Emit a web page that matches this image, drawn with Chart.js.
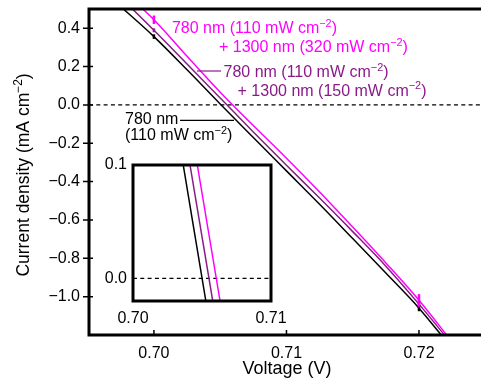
<!DOCTYPE html>
<html><head><meta charset="utf-8">
<script src="https://cdn.jsdelivr.net/npm/chart.js@4.4.0/dist/chart.umd.min.js"></script>
<style>
html,body{margin:0;padding:0;background:#fff;}
#wrap{position:relative;width:481px;height:390px;overflow:hidden;}
canvas{position:absolute;left:0;top:0;}
</style></head><body>
<div id="wrap"><canvas id="main" width="481" height="390"></canvas><canvas id="inset" width="481" height="390"></canvas></div>
<script>
// ---------- data ----------
const voltage  = [0.6975, 0.7000, 0.7025, 0.7050, 0.7075, 0.7100, 0.7125, 0.7150, 0.7175, 0.7200, 0.7225];
const jBlack   = [0.512, 0.356, 0.183, 0.005, -0.170, -0.344, -0.518, -0.697, -0.877, -1.060, -1.270];
const jPurple  = [0.560, 0.389, 0.213, 0.036, -0.141, -0.315, -0.486, -0.661, -0.841, -1.039, -1.249];
const jMagenta = [0.605, 0.444, 0.253, 0.066, -0.108, -0.278, -0.454, -0.637, -0.824, -1.019, -1.236];
const errVoltage = [0.700, 0.720];
const errBlack   = [0.012, 0.016];
const errPurple  = [0.010, 0.018];
const errMagenta = [0.022, 0.032];
const xTicks = [0.70, 0.71, 0.72];
const yTicks = [0.4, 0.2, 0.0, -0.2, -0.4, -0.6, -0.8, -1.0];
// inset (zoom around open-circuit voltage)
const insetJ        = [0.1, -0.02];
const insetVBlack   = [0.70364, 0.70528];
const insetVPurple  = [0.70413, 0.70578];
const insetVMagenta = [0.70466, 0.70631];
const insetXTicks = [0.70, 0.71];
const insetYTicks = [0.0, 0.1];
// labels: [V, J] anchor of text baseline start, text with ^sup^
const labelsMagenta = [[0.70136, 0.3723, '780 nm (110 mW cm^\u22122^)'], [0.70491, 0.2758, '+ 1300 nm (320 mW cm^\u22122^)']];
const labelsPurple  = [[0.70525, 0.1455, '780 nm (110 mW cm^\u22122^)'], [0.70631, 0.0480, '+ 1300 nm (150 mW cm^\u22122^)']];
const labelsBlack   = [[0.69782, -0.0996, '780 nm'], [0.69782, -0.1830, '(110 mW cm^\u22122^)']];
const leaderPurple = [[0.70325, 0.1767], [0.70506, 0.1767]];
const leaderBlack  = [[0.70197, -0.0813], [0.70604, -0.0813]];

const MAG = '#FF00FF', PUR = '#8B1A89', BLK = '#000000';
const FONT = "'Liberation Sans', Arial, Helvetica, sans-serif";
Chart.defaults.font.family = FONT;
Chart.defaults.color = '#000';

const mk = (vs, js) => vs.map((v, i) => ({x: v, y: js[i]}));
const fmtY = v => (Math.abs(v) < 1e-9 ? 0 : v).toFixed(1).replace('-', '\u2212');

function drawRich(ctx, str, x, y, size, color, measureOnly) {
  const parts = str.split('^');
  let cx = x;
  ctx.fillStyle = color;
  parts.forEach((t, i) => {
    if (!t) return;
    const sup = i % 2 === 1;
    ctx.font = (sup ? size * 0.68 : size) + 'px ' + FONT;
    if (!measureOnly) ctx.fillText(t, cx, sup ? y - size * 0.4 : y);
    cx += ctx.measureText(t).width;
  });
  return cx - x;
}

const mainDeco = {
  id: 'mainDeco',
  beforeDatasetsDraw(chart) {
    const {ctx, chartArea: a, scales: {y}} = chart;
    ctx.save();
    ctx.strokeStyle = '#000'; ctx.lineWidth = 1.2; ctx.setLineDash([4, 3.3]);
    const y0 = y.getPixelForValue(0);
    ctx.beginPath(); ctx.moveTo(a.left, y0); ctx.lineTo(a.right, y0); ctx.stroke();
    ctx.restore();
  },
  afterDatasetsDraw(chart) {
    const {ctx, chartArea: a, scales: {x, y}} = chart;
    ctx.save();
    // error bars
    const bars = [[jBlack, errBlack, BLK], [jPurple, errPurple, PUR], [jMagenta, errMagenta, MAG]];
    bars.forEach(([js, errs, col]) => {
      ctx.strokeStyle = col; ctx.lineWidth = 2.5;
      errVoltage.forEach((v, k) => {
        const i = voltage.indexOf(v);
        const xp = x.getPixelForValue(v);
        ctx.beginPath();
        ctx.moveTo(xp, y.getPixelForValue(js[i] + errs[k]));
        ctx.lineTo(xp, y.getPixelForValue(js[i] - errs[k]));
        ctx.stroke();
      });
    });
    // axes
    ctx.strokeStyle = '#000'; ctx.lineWidth = 3; ctx.lineCap = 'butt';
    ctx.beginPath();
    ctx.moveTo(a.left, a.top); ctx.lineTo(a.right + 2, a.top);
    ctx.moveTo(a.left, a.top - 1.5); ctx.lineTo(a.left, a.bottom + 1.5);
    ctx.moveTo(a.left - 1.5, a.bottom); ctx.lineTo(a.right + 2, a.bottom);
    ctx.stroke();
    ctx.lineWidth = 1.5;
    ctx.beginPath();
    yTicks.forEach(v => { const p = y.getPixelForValue(v); ctx.moveTo(a.left - 6, p); ctx.lineTo(a.left + 4, p); });
    xTicks.forEach(v => { const p = x.getPixelForValue(v); ctx.moveTo(p, a.bottom); ctx.lineTo(p, a.bottom - 5); });
    ctx.stroke();
    // leader lines
    ctx.lineWidth = 1.2;
    [[leaderPurple, PUR], [leaderBlack, BLK]].forEach(([L, col]) => {
      ctx.strokeStyle = col; ctx.beginPath();
      ctx.moveTo(x.getPixelForValue(L[0][0]), y.getPixelForValue(L[0][1]));
      ctx.lineTo(x.getPixelForValue(L[1][0]), y.getPixelForValue(L[1][1]));
      ctx.stroke();
    });
    // labels
    ctx.textBaseline = 'alphabetic'; ctx.textAlign = 'left';
    [[labelsMagenta, MAG], [labelsPurple, PUR], [labelsBlack, BLK]].forEach(([L, col]) => {
      L.forEach(([v, j, t]) => drawRich(ctx, t, x.getPixelForValue(v), y.getPixelForValue(j), 16, col));
    });
    // axis titles
    const ttl = 'Current density (mA cm^\u22122^)';
    ctx.save();
    ctx.translate(28.5, (a.top + a.bottom) / 2 + 3);
    ctx.rotate(-Math.PI / 2);
    const w = drawRich(ctx, ttl, 0, 0, 17.5, '#000', true);
    drawRich(ctx, ttl, -w / 2, 0, 17.5, '#000');
    ctx.restore();
    ctx.font = '18px ' + FONT; ctx.textAlign = 'center'; ctx.fillStyle = '#000';
    ctx.fillText('Voltage (V)', (a.left + a.right) / 2 + 2, 374);
    ctx.restore();
  }
};

const lineDs = (data, col) => ({data, borderColor: col, borderWidth: 1.5, pointRadius: 0, cubicInterpolationMode: 'monotone', fill: false});

new Chart(document.getElementById('main'), {
  type: 'line',
  data: {datasets: [lineDs(mk(voltage, jMagenta), MAG), lineDs(mk(voltage, jPurple), PUR), lineDs(mk(voltage, jBlack), BLK)]},
  options: {
    responsive: false, animation: false, devicePixelRatio: 1,
    layout: {padding: {top: 9, left: 0, right: 0, bottom: 0}},
    plugins: {legend: {display: false}, tooltip: {enabled: false}},
    scales: {
      x: {type: 'linear', min: 0.6951, max: 0.72468,
        afterBuildTicks: s => { s.ticks = xTicks.map(v => ({value: v})); },
        afterFit: s => { s.height = 55; s.paddingLeft = 0; s.paddingRight = 0; },
        grid: {display: false, drawTicks: false}, border: {display: false},
        ticks: {font: {size: 16}, padding: 9, maxRotation: 0, autoSkip: false, callback: v => v.toFixed(2)}},
      y: {type: 'linear', min: -1.2, max: 0.5,
        afterBuildTicks: s => { s.ticks = yTicks.map(v => ({value: v})); },
        afterFit: s => { s.width = 89; s.paddingTop = 0; s.paddingBottom = 0; },
        grid: {display: false, drawTicks: false}, border: {display: false},
        ticks: {font: {size: 16}, padding: 9, autoSkip: false, callback: fmtY}}
    }
  },
  plugins: [mainDeco]
});

const insetDeco = {
  id: 'insetDeco',
  beforeDatasetsDraw(chart) {
    const {ctx, chartArea: a, scales: {y}} = chart;
    ctx.save();
    ctx.fillStyle = '#fff'; ctx.fillRect(a.left, a.top, a.right - a.left, a.bottom - a.top);
    ctx.strokeStyle = '#000'; ctx.lineWidth = 1.2; ctx.setLineDash([4, 3.3]);
    const y0 = y.getPixelForValue(0);
    ctx.beginPath(); ctx.moveTo(a.left, y0); ctx.lineTo(a.right, y0); ctx.stroke();
    ctx.restore();
  },
  afterDatasetsDraw(chart) {
    const {ctx, chartArea: a} = chart;
    ctx.save();
    ctx.strokeStyle = '#000'; ctx.lineWidth = 3;
    ctx.strokeRect(a.left, a.top, a.right - a.left, a.bottom - a.top);
    ctx.restore();
  }
};

new Chart(document.getElementById('inset'), {
  type: 'line',
  data: {datasets: [lineDs(mk(insetVMagenta, insetJ), MAG), lineDs(mk(insetVPurple, insetJ), PUR), lineDs(mk(insetVBlack, insetJ), BLK)]},
  options: {
    responsive: false, animation: false, devicePixelRatio: 1,
    layout: {padding: {top: 165, left: 0, right: 210, bottom: 0}},
    plugins: {legend: {display: false}, tooltip: {enabled: false}},
    scales: {
      x: {type: 'linear', min: 0.70, max: 0.71,
        afterBuildTicks: s => { s.ticks = insetXTicks.map(v => ({value: v})); },
        afterFit: s => { s.height = 89; s.paddingLeft = 0; s.paddingRight = 0; },
        grid: {display: false, drawTicks: false}, border: {display: false},
        ticks: {font: {size: 16}, padding: 8, maxRotation: 0, autoSkip: false, callback: v => v.toFixed(2)}},
      y: {type: 'linear', min: -0.02, max: 0.1,
        afterBuildTicks: s => { s.ticks = insetYTicks.map(v => ({value: v})); },
        afterFit: s => { s.width = 133; s.paddingTop = 0; s.paddingBottom = 0; },
        grid: {display: false, drawTicks: false}, border: {display: false},
        ticks: {font: {size: 16}, padding: 6, autoSkip: false, callback: fmtY}}
    }
  },
  plugins: [insetDeco]
});
</script>
</body></html>
